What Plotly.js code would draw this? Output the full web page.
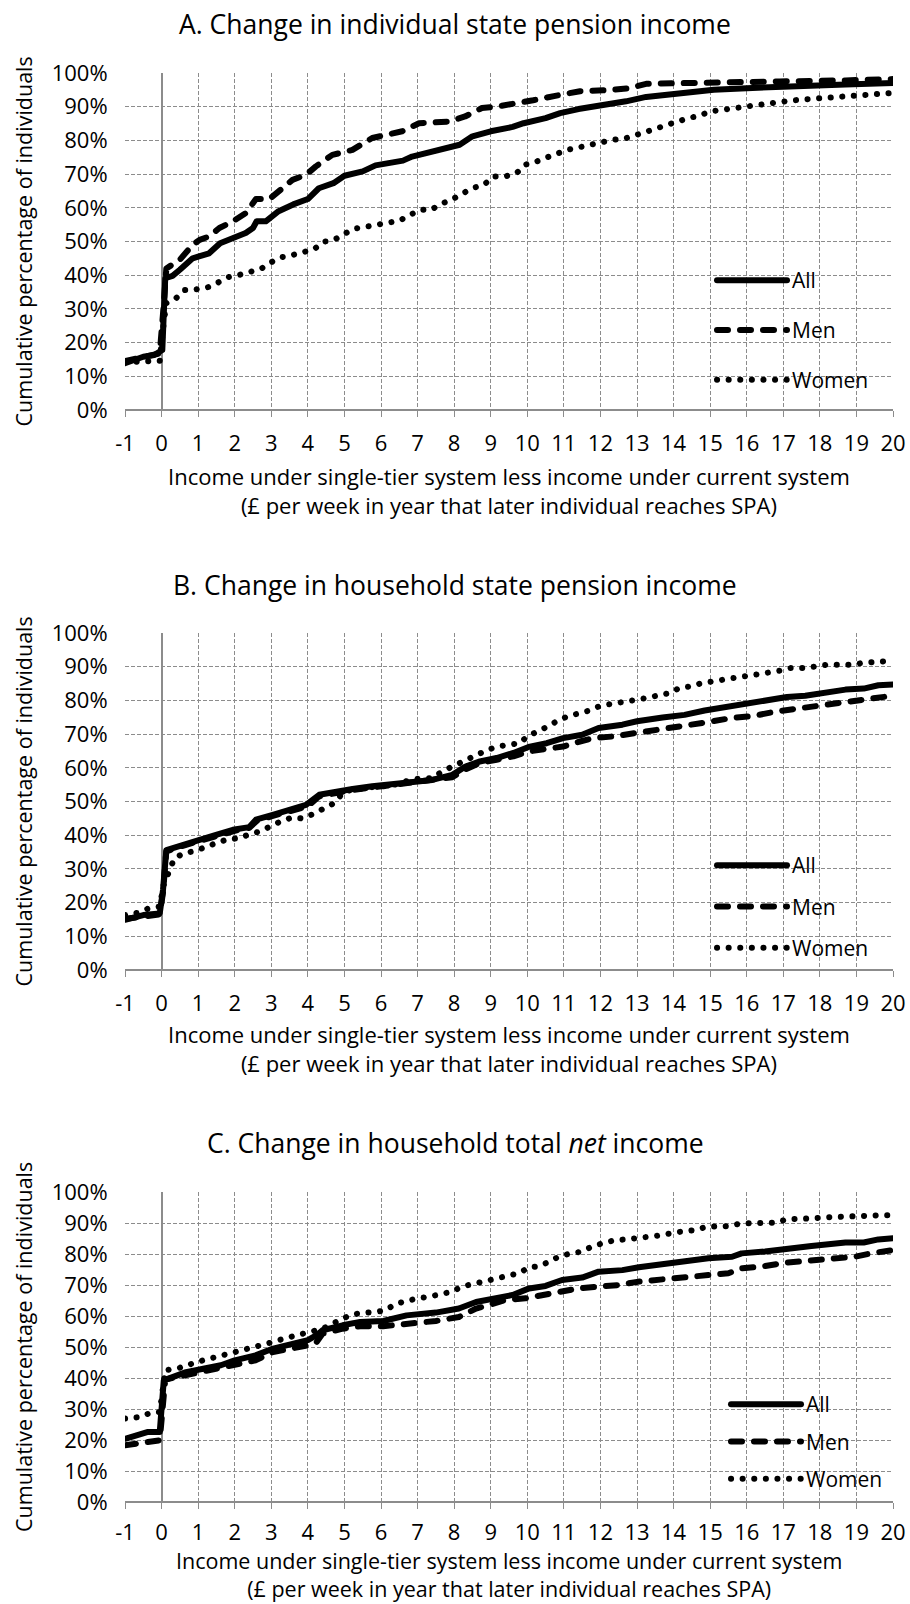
<!DOCTYPE html>
<html>
<head>
<meta charset="utf-8">
<script src="https://cdn.plot.ly/plotly-3.0.1.min.js"></script>
<style>
html, body { margin: 0; padding: 0; background: #fff; }
#chart { width: 910px; height: 1604px; }
path.js-line { stroke-linecap: round; stroke-linejoin: round; }
</style>
</head>
<body>
<div id="chart"></div>
<script>
// ---------- Data ----------
var seriesNames = ["All", "Men", "Women"];
var xTickVals = [-1,0,1,2,3,4,5,6,7,8,9,10,11,12,13,14,15,16,17,18,19,20];
var yTickVals = [0,10,20,30,40,50,60,70,80,90,100];

var panelTitles = [
  "A. Change in individual state pension income",
  "B. Change in household state pension income",
  "C. Change in household total <i>net</i> income"
];
var xAxisTitle = "Income under single-tier system less income under current system<br>(£ per week in year that later individual reaches SPA)";
var yAxisTitle = "Cumulative percentage of individuals";

// Panel A
var aAllX = [-1,-0.7,-0.5,-0.2,-0.05,0.02,0.1,0.3,0.5,0.85,1.0,1.3,1.6,1.95,2.3,2.5,2.6,2.85,3.2,3.6,4.0,4.3,4.7,5.0,5.5,5.85,6.3,6.6,6.85,7.4,7.95,8.15,8.5,9.0,9.6,9.9,10.5,10.9,11.4,12.3,12.7,13.25,14.0,15.1,16.0,16.9,17.8,18.7,20];
var aAllY = [13.9,15.3,15.8,16.3,17.2,17.8,39.1,39.8,41.6,45,45.5,46.5,49.5,51,52.5,54,56,56,59,61,62.6,65.8,67.3,69.5,70.8,72.6,73.5,74,75.2,76.7,78.2,78.7,81.2,82.7,84,85.1,86.6,88.1,89.3,90.6,91.6,92.9,93.9,95,95.5,96,96.3,96.6,97];
var aMenX = [-1,-0.6,-0.3,-0.05,0.05,0.13,0.5,0.85,1.04,1.3,1.58,1.95,2.3,2.58,2.95,3.22,3.58,3.95,4.22,4.67,5.22,5.76,6.22,6.58,7.04,7.85,8.3,8.76,9.2,9.62,10.16,10.8,11.44,12.16,12.8,13.25,14.16,15.07,16.9,18.7,20];
var aMenY = [14.5,15.5,16,16.8,30,42,44.6,49,50.5,51.5,54,56,58.4,62.6,62.6,65.3,68.3,69.8,72.3,75.7,77.2,80.7,81.7,82.7,85.1,85.6,87.1,89.6,90.1,90.8,91.9,93.3,94.6,94.9,95.5,96.8,97,97.5,97.5,97.8,98.2];
var aWomenX = [-1,-0.5,-0.05,0.05,0.13,0.4,0.63,0.95,1.26,1.54,1.81,2.13,2.45,2.72,2.99,3.26,3.58,3.85,4.17,4.42,4.72,4.99,5.26,5.56,5.88,6.2,6.49,6.76,7.06,7.37,7.63,7.93,8.22,8.49,8.81,9.08,9.39,9.71,9.94,10.2,10.5,10.8,11.1,11.44,11.7,12.0,12.35,12.66,12.94,13.25,13.5,13.85,14.16,14.4,14.7,15.0,15.35,15.66,16.0,16.25,16.56,16.9,17.2,17.5,17.85,18.16,18.5,18.8,19.1,19.45,19.7,20];
var aWomenY = [14.2,14.4,14.6,25,31.7,33.2,35.6,35.8,36.4,37.8,39.4,40.1,40.9,41.9,43.8,45.3,46,46.8,47.7,49.9,50.5,52.2,53.8,54.3,55.1,55.6,56.1,57.9,59.4,59.4,61.1,62.4,64,65.8,66.8,69.3,69.3,70.3,72.8,73.5,74.8,76.2,77.2,78,78.7,79.5,80.2,80.5,81.5,82.4,83.4,84.4,85.6,86.6,87.3,88.6,89.1,89.6,90.1,90.6,90.9,91.4,91.8,92.1,92.4,92.9,93.1,93.3,93.6,93.6,93.8,94.1];

// Panel B
var bAllX = [-1,-0.5,-0.05,0.04,0.13,0.4,0.67,1.04,1.49,1.95,2.4,2.58,3.04,3.49,3.95,4.31,4.76,5.22,5.76,6.31,6.85,7.4,7.95,8.31,8.67,9.16,9.62,10.07,10.53,10.98,11.5,11.95,12.6,13.0,13.7,14.3,14.85,15.5,16.0,16.5,17.1,17.6,18.15,18.7,19.2,19.6,20];
var bAllY = [14.9,16.3,16.8,23.8,35.6,36.6,37.4,38.6,40.1,41.6,42.4,44.6,46,47.5,49,52,53,53.7,54.5,55.2,55.9,56.4,57.9,60.4,61.8,62.9,64.4,66.3,67.3,68.8,69.8,71.8,72.8,73.8,74.9,75.7,77,78.2,78.9,79.7,81,81.4,82.4,83.2,83.5,84.5,84.7];
var bMenX = [-1,-0.5,-0.05,0.04,0.13,0.5,1.0,1.5,2.0,2.4,2.6,3.0,3.5,4.0,4.3,4.8,5.2,5.8,6.3,6.9,7.4,7.95,8.3,8.7,9.16,9.62,10.07,10.53,10.98,11.44,11.8,12.35,13.0,13.7,14.3,14.9,15.6,16.2,16.8,17.5,18.15,18.7,19.2,20];
var bMenY = [15.2,15.8,16.5,23,35.2,36.6,38.3,39.8,41.3,42.2,44.2,45.6,47.2,48.6,51.5,52.7,53.4,54.2,54.9,55.5,56,57.2,59.5,61.4,62.4,63.4,64.9,65.5,66.3,67.8,68.8,69.3,70.3,71.3,72.3,73.5,74.8,75.4,76.7,77.7,78.7,79.2,80.2,81.4];
var bWomenX = [-1,-0.65,-0.35,-0.05,0.05,0.35,0.63,0.95,1.22,1.49,1.81,2.13,2.4,2.69,2.96,3.26,3.55,3.85,4.15,4.42,4.72,4.99,5.26,5.58,5.9,6.22,6.49,6.81,7.08,7.4,7.67,7.97,8.26,8.54,8.83,9.16,9.48,9.8,10.0,10.3,10.57,10.85,11.16,11.44,11.7,12.0,12.35,12.66,12.98,13.25,13.57,13.9,14.16,14.5,14.75,15.07,15.4,15.7,16.0,16.35,16.66,16.9,17.2,17.57,17.9,18.2,18.5,18.85,19.16,19.48,19.8,20];
var bWomenY = [16.3,17.0,18.3,18.8,25,33.2,34.7,35.4,36.6,37.6,38.8,39.1,40.3,41.1,42.6,44.1,45.2,45,46.3,48,49.5,53,53.5,53.7,54.5,54.5,55.4,56.4,56.9,56.9,58.9,60.4,61.9,63.7,64.9,66.3,66.8,67.3,69.3,70.8,72.3,74.1,75.5,76.2,77,78.4,79.2,79.7,80.2,80.7,81.4,82.2,83.7,84.2,85.1,85.6,86.3,86.9,87.3,87.6,88.1,88.8,89.6,89.6,90.1,90.6,90.6,90.6,91.1,91.3,91.6,91.8];

// Panel C
var cAllX = [-1,-0.6,-0.37,-0.05,0.06,0.19,0.67,1.14,1.62,2.0,2.57,3.05,3.52,4.0,4.24,4.4,4.95,5.43,6.06,6.7,7.5,8.13,8.6,9.14,9.6,10.05,10.5,10.95,11.5,11.95,12.6,13.05,13.7,14.3,14.95,15.6,15.86,16.5,16.86,17.05,17.77,18.3,18.7,19.2,19.6,20];
var cAllY = [20.4,21.5,22.6,22.6,39.2,39.8,41.9,43,44.1,45.7,47.3,49.5,50.9,52.2,53.8,55.4,57,58.1,58.4,60.2,61.1,62.4,64.5,65.7,66.8,68.9,69.7,71.6,72.4,74.3,74.8,75.7,76.7,77.5,78.6,79.1,80.2,80.8,81.3,82,82.6,83.2,83.7,83.7,84.7,85.1];
var cMenX = [-1,-0.6,-0.3,-0.05,0.1,0.67,1.14,1.62,2.1,2.57,3.05,3.52,4.0,4.24,4.4,4.95,5.43,6.06,6.7,7.5,8.13,8.6,8.95,9.4,9.95,10.5,10.95,11.4,11.95,12.5,13.05,13.7,14.3,15.0,15.5,15.86,16.5,17.05,17.7,18.3,18.95,19.4,20];
var cMenY = [18.3,18.8,19.4,19.9,39.5,40.9,41.9,43.3,44.6,45.7,48.4,49.5,50.5,51.6,54.3,55.9,56.7,56.7,57.5,58.4,59.7,62.4,63.5,65.2,65.7,66.8,67.8,68.9,69.5,70,71.1,71.8,72.2,73.4,73.8,75.4,76.1,77.2,77.7,78.4,79.1,80.2,81.3];
var cWomenX = [-1,-0.6,-0.29,-0.05,0.1,0.5,0.98,1.46,1.94,2.41,2.89,3.44,3.92,4.4,4.95,5.2,5.5,5.8,6.1,6.4,6.7,7.0,7.3,7.63,7.93,8.22,8.52,8.82,9.14,9.45,9.77,10.05,10.3,10.6,10.9,11.2,11.5,11.8,12.1,12.4,12.7,13.0,13.36,13.7,14.0,14.3,14.6,14.9,15.2,15.5,15.86,16.2,16.5,16.8,17.1,17.4,17.8,18.1,18.4,18.7,19.05,19.36,19.7,20];
var cWomenY = [26.9,27.4,28.8,29,42.5,43.3,45.2,46.6,48.4,49.7,51.1,53,54.3,55.9,59.1,60.5,60.9,61.4,61.7,63.9,65,65.7,66.2,67.3,67.8,69.5,70.3,71.1,71.8,72.9,73.8,75.7,76,77.5,79.4,80.2,80.8,82.6,83.4,84.5,84.7,85.1,85.3,86.1,86.9,87.5,87.7,88.8,88.8,89,89.9,89.9,90.1,90.1,91.2,91.2,91.5,91.8,92,92,92,92.3,92.5,92.5];

// ---------- Styling ----------
var FONT = "Open Sans, Noto Sans, sans-serif";
var GRID = "#8c8c8c";
var dashes = { All: "solid", Men: "11px,12px", Women: "0.1px,11.5px" };
var W = 910, H = 1604;
var plotLeft = 125, plotRight = 893;
var panels = [
  { top: 73,   bottom: 410,  titleY: 24,   legX: 712, legTop: 260,  gap: 19.5,
    box: [698, 253, 887, 407], xt: 490, xtSize: 22, standoff: 8 },
  { top: 633,  bottom: 970,  titleY: 585,  legX: 712, legTop: 845,  gap: 11,
    box: [700, 843, 888, 964], xt: 1048, xtSize: 22, standoff: 8 },
  { top: 1192, bottom: 1502, titleY: 1143, legX: 726, legTop: 1384, gap: 7,
    box: [717, 1385, 887, 1496], xt: 1574.5, xtSize: 21.5, standoff: 5 }
];
function py(p) { return 1 - p / H; }

var panelData = [
  [[aAllX, aAllY], [aMenX, aMenY], [aWomenX, aWomenY]],
  [[bAllX, bAllY], [bMenX, bMenY], [bWomenX, bWomenY]],
  [[cAllX, cAllY], [cMenX, cMenY], [cWomenX, cWomenY]]
];

var traces = [];
var layout = {
  width: W, height: H,
  margin: { l: 0, r: 0, t: 0, b: 0 },
  paper_bgcolor: "#fff", plot_bgcolor: "#fff",
  font: { family: FONT, size: 21, color: "#000" },
  showlegend: true,
  annotations: [],
  shapes: []
};

panels.forEach(function (p, i) {
  var sfx = i === 0 ? "" : String(i + 1);
  var xa = "x" + sfx, ya = "y" + sfx;
  var legName = "legend" + sfx;
  panelData[i].forEach(function (d, j) {
    traces.push({
      type: "scatter", mode: "lines",
      x: d[0], y: d[1],
      name: seriesNames[j],
      xaxis: xa, yaxis: ya,
      legend: legName,
      legendgroup: "p" + i + "_" + j,
      line: { color: "#000", width: 6, dash: dashes[seriesNames[j]] },
      hoverinfo: "skip"
    });
  });
  layout["xaxis" + sfx] = {
    domain: [plotLeft / W, plotRight / W],
    anchor: ya,
    range: [-1, 20],
    tickvals: xTickVals,
    ticktext: xTickVals.map(String),
    showgrid: true, gridcolor: GRID, gridwidth: 1, griddash: "4px,2px",
    zeroline: true, zerolinecolor: GRID, zerolinewidth: 2,
    showline: false,
    ticks: "outside", ticklen: 6, tickcolor: GRID, tickwidth: 1,
    ticklabelstandoff: p.standoff,
    tickfont: { family: FONT, size: 22, color: "#000" },
    fixedrange: true
  };
  layout["yaxis" + sfx] = {
    domain: [py(p.bottom), py(p.top)],
    anchor: xa,
    range: [0, 100],
    tickvals: yTickVals,
    ticktext: yTickVals.map(function (v) { return v + "%"; }),
    showgrid: true, gridcolor: GRID, gridwidth: 1, griddash: "4px,2px",
    zeroline: true, zerolinecolor: GRID, zerolinewidth: 2,
    showline: false,
    ticks: "outside", ticklen: 12, tickcolor: "rgba(0,0,0,0)",
    tickfont: { family: FONT, size: 22, color: "#000" },
    fixedrange: true
  };
  layout[legName] = {
    x: p.legX / W, y: py(p.legTop), xanchor: "left", yanchor: "top",
    bgcolor: "rgba(0,0,0,0)", borderwidth: 0,
    font: { family: FONT, size: 21, color: "#000" },
    itemwidth: 70,
    traceorder: "grouped",
    tracegroupgap: p.gap
  };
  // white box behind the legend (hides gridlines there)
  layout.shapes.push({
    type: "rect", xref: "paper", yref: "paper", layer: "between",
    x0: p.box[0] / W, x1: p.box[2] / W, y0: py(p.box[3]), y1: py(p.box[1]),
    fillcolor: "#fff", line: { width: 0 }
  });
  // panel title
  layout.annotations.push({
    xref: "paper", yref: "paper", x: 0.5, y: py(p.titleY),
    xanchor: "center", yanchor: "middle", showarrow: false,
    text: panelTitles[i], font: { family: FONT, size: 26.5, color: "#000" }
  });
  // x-axis title (two lines)
  layout.annotations.push({
    xref: "paper", yref: "paper", x: ((plotLeft + plotRight) / 2) / W, y: py(p.xt),
    xanchor: "center", yanchor: "middle", showarrow: false,
    text: xAxisTitle, font: { family: FONT, size: p.xtSize, color: "#000" }
  });
  // y-axis title
  layout.annotations.push({
    xref: "paper", yref: "paper", x: 23 / W, y: py((p.top + p.bottom) / 2),
    xanchor: "center", yanchor: "middle", showarrow: false, textangle: -90,
    text: yAxisTitle, font: { family: FONT, size: 21.5, color: "#000" }
  });
});

Plotly.newPlot("chart", traces, layout, { displayModeBar: false, staticPlot: true });
</script>
</body>
</html>
